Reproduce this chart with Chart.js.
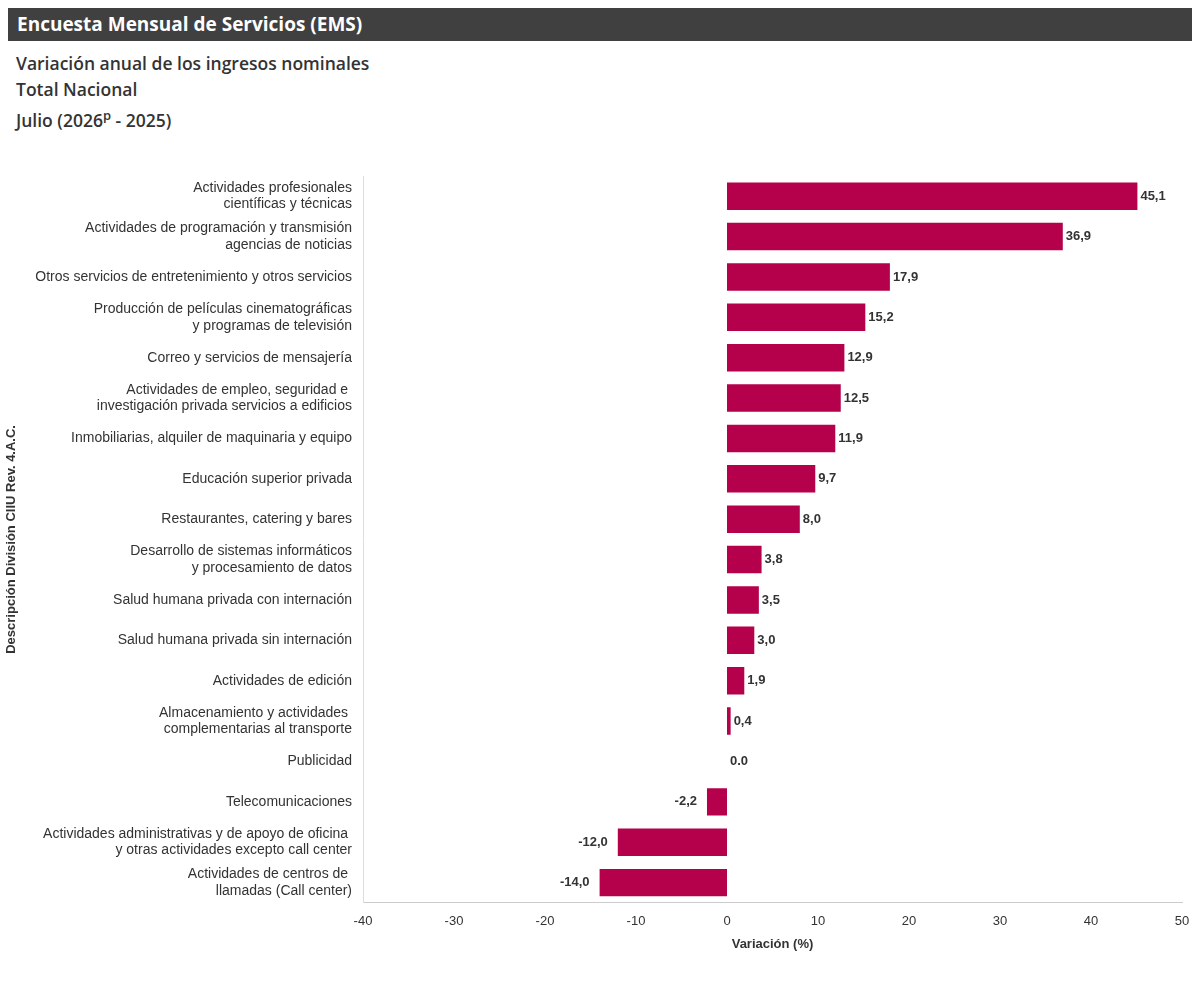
<!DOCTYPE html>
<html><head><meta charset="utf-8">
<script src="https://cdn.jsdelivr.net/npm/chart.js@4"></script>
<style>
body{margin:0;background:#fff;font-family:"Open Sans",sans-serif;}
#hdr{position:absolute;left:8px;top:8px;width:1184px;height:33px;background:#404040;color:#fff;font-weight:bold;font-size:19px;line-height:33px;padding-left:9px;box-sizing:border-box;}
#sub{position:absolute;left:16px;top:50px;color:#333;font-size:17.5px;line-height:26px;font-weight:600;}
#wrap{position:absolute;left:0;top:140px;width:1200px;height:830px;}
</style></head><body>
<div id="hdr">Encuesta Mensual de Servicios (EMS)</div>
<div id="sub">Variación anual de los ingresos nominales<br>Total Nacional<br>Julio (2026<sup style="font-size:13px">p</sup> - 2025)</div>
<div id="wrap"><canvas id="c"></canvas></div>
<script>
const categories=[
["Actividades profesionales","científicas y técnicas"],
["Actividades de programación y transmisión","agencias de noticias"],
"Otros servicios de entretenimiento y otros servicios",
["Producción de películas cinematográficas","y programas de televisión"],
"Correo y servicios de mensajería",
["Actividades de empleo, seguridad e ","investigación privada servicios a edificios"],
"Inmobiliarias, alquiler de maquinaria y equipo",
"Educación superior privada",
"Restaurantes, catering y bares",
["Desarrollo de sistemas informáticos","y procesamiento de datos"],
"Salud humana privada con internación",
"Salud humana privada sin internación",
"Actividades de edición",
["Almacenamiento y actividades ","complementarias al transporte"],
"Publicidad",
"Telecomunicaciones",
["Actividades administrativas y de apoyo de oficina ","y otras actividades excepto call center"],
["Actividades de centros de ","llamadas (Call center)"]];
const values=[45.1,36.9,17.9,15.2,12.9,12.5,11.9,9.7,8.0,3.8,3.5,3.0,1.9,0.4,0.0,-2.2,-12.0,-14.0];
const valueLabels=["45,1","36,9","17,9","15,2","12,9","12,5","11,9","9,7","8,0","3,8","3,5","3,0","1,9","0,4","0.0","-2,2","-12,0","-14,0"];
const lbl={id:'lbl',afterDatasetsDraw(ch){const c=ch.ctx;const m=ch.getDatasetMeta(0);c.save();c.font='bold 13px "Liberation Sans",Arial';c.fillStyle='#333';c.textBaseline='middle';
m.data.forEach((b,i)=>{const v=values[i];if(v<0){c.textAlign='right';c.fillText(valueLabels[i],b.x-10,b.y);}else{c.textAlign='left';c.fillText(valueLabels[i],b.x+3,b.y);}});c.restore();}};
new Chart(document.getElementById('c'),{type:'bar',data:{labels:categories,datasets:[{data:values,backgroundColor:'#B5004B',barPercentage:0.68,categoryPercentage:1}]},
options:{indexAxis:'y',responsive:true,maintainAspectRatio:false,animation:false,
layout:{padding:{top:36,right:18,bottom:14,left:0}},
plugins:{legend:{display:false},tooltip:{enabled:false}},
scales:{x:{min:-40,max:50,ticks:{stepSize:10,color:'#333',font:{size:13,family:'"Liberation Sans",Arial'}},grid:{display:false,drawTicks:true},border:{color:'#ccc'},
title:{display:true,text:'Variación (%)',color:'#333',font:{size:13,weight:'bold',family:'"Liberation Sans",Arial'}}},
y:{afterFit(s){s.width=363;},ticks:{color:'#333',font:{size:14,family:'"Liberation Sans",Arial'},autoSkip:false},grid:{display:false},border:{color:'#ddd'},
title:{display:true,text:'Descripción División CIIU Rev. 4.A.C.',color:'#333',font:{size:13,weight:'bold',family:'"Liberation Sans",Arial'}}}}},
plugins:[lbl]});
</script></body></html>
